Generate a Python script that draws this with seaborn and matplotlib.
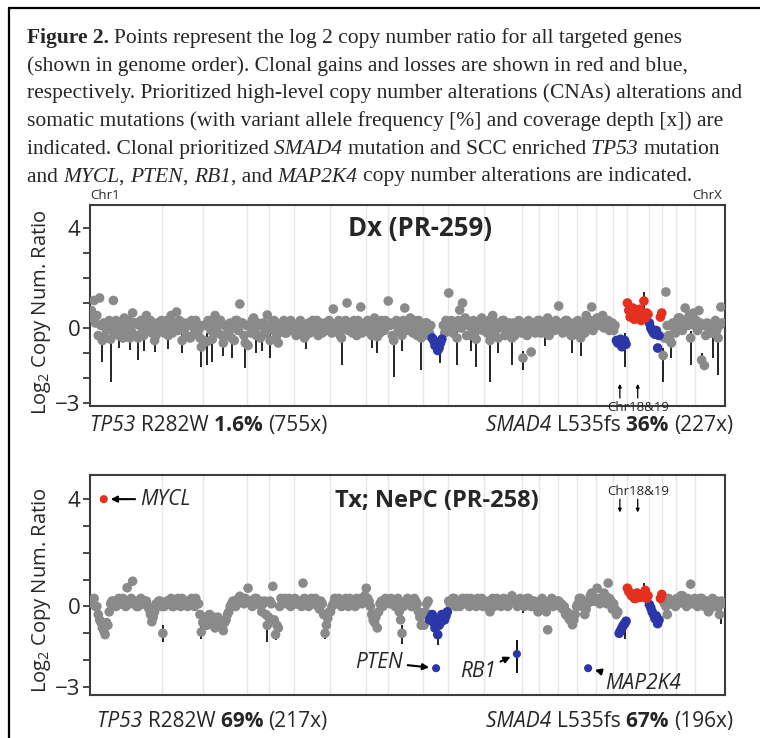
import numpy as np
import pandas as pd
import seaborn as sns
import matplotlib
matplotlib.use('Agg')
from matplotlib import pyplot as plt
from matplotlib.lines import Line2D

W, H = 760, 738

chrom_names = [str(i) for i in range(1, 23)] + ['X']

# ---- Dx (PR-259): log2 copy number ratio per targeted gene, one list per chromosome ----
dx_by_chrom = [
    [0.7, 0.4, 1.1, 0.2, 0.5, -0.3, 1.2, 0.1, -0.5, 0.2, -0.4, -0.1, 0.1, 0.3, -0.45, 0.0,
     1.1, -0.2, 0.3, 0.1, -0.3, 0.2, 0.0, -0.4, 0.4, 0.1, -0.2, 0.3, -0.4, -0.1, 0.6, 0.2,
     0.2, -0.3, -0.4, 0.1, 0.3, -0.2, -0.3, 0.2, 0.5, -0.1, 0.0, 0.3, -0.2, 0.1, -0.5, -0.3,
     0.2, 0.0, 0.1, 0.3],                                                         # chr1
    [0.2, -0.2, 0.0, 0.3, -0.3, 0.1, 0.5, -0.2, 0.1, 0.2, 0.64, -0.1, 0.3, 0.0, -0.5, 0.2,
     0.0, -0.3, 0.2, 0.1, -0.4, 0.3, 0.1, -0.2, 0.3, 0.0, -0.1, -0.4, -0.76, 0.1],  # chr2
    [-0.5, 0.1, -0.55, 0.3, 0.2, -0.1, -0.45, 0.2, 0.5, 0.0, -0.2, 0.3, 0.3, -0.3, -0.6, 0.1,
     0.1, -0.2, -0.3, 0.2, -0.4, 0.0, -0.5, 0.3, 0.3, -0.1, 0.96, 0.2, 0.2, -0.3, -0.6, 0.1],  # chr3
    [-0.7, 0.1, -0.2, 0.3, 0.4, -0.1, -0.3, 0.2, 0.1, -0.4, -0.3, 0.2, 0.0, -0.2, 0.52, 0.1],  # chr4
    [-0.5, 0.2, -0.1, 0.3, 0.2, -0.3, -0.6, 0.0, 0.1, 0.2, 0.3, -0.2, -0.2, 0.1, 0.0, 0.3,
     0.2, -0.1],                                                                  # chr5
    [0.1, -0.3, -0.2, 0.2, 0.3, 0.0, 0.0, -0.4, -0.3, 0.1, 0.2, -0.2, 0.1, 0.3, -0.1, 0.0,
     0.3, -0.3, 0.0, 0.2, -0.2, 0.1, 0.2, -0.1, 0.1, 0.3],                        # chr6
    [0.2, -0.2, 0.76, 0.1, -0.1, 0.2, 0.3, -0.3, -0.4, 0.0, 0.1, 0.3, 1.0, -0.1, 0.2, 0.1,
     -0.2, 0.3, 0.0, -0.3, 0.3, 0.1, 0.84, -0.2, -0.1, 0.2],                      # chr7
    [0.0, 0.3, 0.2, -0.2, -0.3, 0.1, 0.4, 0.0, -0.35, 0.2, -0.2, 0.3, 0.2, -0.1, 0.3, 0.1],  # chr8
    [1.08, 0.1, 0.2, -0.3, -0.5, 0.2, 0.3, 0.0, 0.0, -0.2, -0.3, 0.3, 0.8, 0.1, 0.2, -0.1,
     0.4, 0.2, -0.2, 0.3, 0.1, -0.3, 0.3, 0.0, -0.4, 0.1],                        # chr9
    [-0.1, 0.2, 0.2, -0.3, -0.2, 0.1, -0.4, -0.5, -0.7, -0.6, -0.9, -0.8, -0.6, -0.45,
     0.1, -0.2, 0.3, 0.0],                                                        # chr10
    [1.4, 0.2, 0.3, -0.2, 0.2, 0.1, -0.4, 0.3, 0.72, 0.0, 1.0, 0.2, 0.4, -0.3, 0.1, 0.2,
     -0.3, 0.0, 0.3, -0.2, -0.45, 0.1, 0.0, 0.3, 0.4, -0.1],                      # chr11
    [0.2, -0.1, -0.2, 0.3, -0.5, 0.1, 0.5, -0.2, 0.0, 0.2, -0.4, 0.0, 0.1, 0.3, 0.3, -0.3,
     -0.1, 0.1, 0.2, -0.2, -0.4, 0.2, -0.3, 0.0, 0.1, 0.3, 0.0, -0.2],            # chr12
    [-1.2, 0.2, 0.1, -0.3, 0.3, 0.0, -0.96, 0.2, 0.2, -0.2, 0.0, 0.3],           # chr13
    [0.3, -0.2, 0.1, 0.2, -0.2, 0.0, 0.4, -0.3, 0.0, 0.1, 0.2, -0.1, 0.3, 0.2],  # chr14
    [0.88, 0.1, 0.2, -0.2, -0.1, 0.3, 0.3, 0.0, 0.0, -0.3, -0.3, 0.2, 0.1, -0.1],  # chr15
    [0.3, 0.0, -0.4, 0.2, 0.2, -0.2, 0.5, 0.1, 0.1, 0.3, 0.84, -0.1, 0.3, 0.2],  # chr16
    [0.4, 0.1, 0.2, 0.3, 0.5, 0.0, 0.1, 0.2, 0.3, -0.1, 0.0, 0.2],               # chr17
    [-0.1, 0.1, -0.5, -0.6, -0.6, -0.45, -0.75, -0.55, -0.5, -0.65],             # chr18
    [1.0, 0.7, 0.44, 0.55, 0.8, 0.35, 0.6, 0.45, 0.5, 0.75, 0.3, 0.5, 1.08, 0.4, 0.6, 0.55],  # chr19
    [0.2, 0.0, -0.1, -0.2, -0.25, -0.1, -0.8, -0.3, 0.44, 0.6],                  # chr20
    [-1.1, -0.4, 1.44, 0.1, -0.3, -0.5, -0.6, 0.2, 0.0, -0.2],                   # chr21
    [0.2, 0.4, 0.4, 0.1, -0.1, 0.3, 0.8, 0.2, 0.1, 0.5, -0.4, 0.3, 0.6, 0.1],    # chr22
    [0.3, -0.1, 0.7, 0.2, -1.28, 0.1, -1.5, -0.3, 0.2, 0.0, 0.1, -0.2, -0.2, 0.2, 0.3, -0.1,
     -0.4, 0.1, 0.84, 0.2],                                                       # chrX
]
dx_gain_idx = list(range(390, 406)) + [414, 415]
dx_loss_idx = list(range(248, 256)) + list(range(382, 390)) + list(range(406, 414))
dx_err_idx = [8, 14, 28, 34, 46, 80, 84, 88, 102, 112, 120, 130, 182, 208, 220, 240, 254, 266,
              280, 290, 306, 314, 350, 388, 402, 416, 436, 456,
              20, 38, 56, 66, 96, 124, 156, 204, 226, 276, 296, 330, 356, 422, 444, 452]
dx_err_lo = [-1.36, -2.16, -0.88, -1.28, -0.96, -1.56, -1.48, -1.36, -1.2, -1.6, -1.0, -1.2,
             -1.48, -1.0, -1.96, -1.68, -1.4, -1.48, -1.56, -2.16, -1.48, -1.68, -1.0, -1.56,
             0.6, -2.16, -1.48, -1.88,
             -0.8, -0.9, -0.85, -1.0, -1.1, -0.9, -0.85, -0.8, -0.9, -0.9, -1.0, -0.7, -1.1,
             -1.2, -1.6, -1.2]
dx_err_hi = [-0.2, -0.1, -0.1, -0.1, -0.2, -0.4, -0.2, -0.1, -0.1, -0.3, 0.0, -0.2,
             -0.1, -0.05, -0.2, -0.1, -0.3, -0.1, -0.15, -0.2, -0.1, -0.9, 0.0, -0.2,
             1.44, -0.8, -0.1, -0.1,
             0.1, 0.0, 0.0, -0.2, -0.3, 0.0, 0.0, 0.0, -0.1, 0.0, -0.1, 0.1, -0.1,
             -0.3, -1.0, 0.1]

# ---- Tx; NePC (PR-258) ----
tx_by_chrom = [
    [0.2, 0.1, 0.3, 0.0, 0.0, -0.3, -0.5, -0.6, -0.8, -0.9, -1.05, -0.6, -0.7, -0.2, 0.1, 0.2,
     0.2, 0.1, 0.0, 0.2, 0.3, 0.1, 0.1, 0.3, 0.2, 0.0, 0.7, 0.2, 0.1, 0.3, 0.94, 0.1,
     0.2, 0.0, 0.0, 0.2, 0.3, 0.1, 0.1, 0.2, 0.2, 0.0, -0.1, -0.3, -0.57, -0.4, -0.2, 0.1,
     0.1, 0.2, 0.2, 0.0],                                                         # chr1
    [-1.0, 0.0, 0.1, 0.2, 0.2, 0.1, 0.3, 0.0, 0.0, 0.2, 0.2, 0.3, 0.1, 0.0, 0.3, 0.1,
     0.2, 0.2, 0.0, 0.1, 0.1, 0.3, 0.2, 0.0, 0.3, 0.1, 0.1, -0.3, -0.95, -0.6],   # chr2
    [-0.5, -0.4, -0.7, -0.5, -0.3, -0.6, -0.6, -0.4, -0.8, -0.7, -0.4, -0.5, -0.6, -0.8, -0.9, -0.6,
     -0.5, -0.3, -0.2, 0.0, 0.1, 0.2, 0.2, 0.0, 0.1, 0.3, 0.38, 0.2, 0.2, 0.1, 0.3, 0.2],  # chr3
    [0.68, 0.2, 0.2, 0.0, 0.1, 0.3, 0.3, 0.1, 0.07, 0.2, -0.2, 0.1, 0.2, -0.3, -0.7, -0.4],  # chr4
    [0.2, 0.1, 0.75, -0.5, -1.05, -0.7, -0.8, 0.0, 0.3, 0.1, 0.2, 0.3, 0.1, 0.2, 0.3, 0.0,
     0.2, 0.1],                                                                   # chr5
    [0.3, 0.1, 0.1, 0.2, 0.2, 0.0, 0.87, 0.3, 0.2, 0.1, 0.0, 0.2, 0.3, 0.1, 0.1, 0.3,
     0.2, 0.0, -0.1, 0.2, 0.1, -0.3, -1.0, -0.7, -0.45, -0.2],                    # chr6
    [-0.2, 0.0, 0.1, 0.3, 0.2, 0.1, 0.3, 0.2, 0.0, 0.1, 0.2, 0.3, 0.1, 0.0, 0.3, 0.2,
     0.2, 0.1, 0.0, 0.3, 0.1, 0.2, 0.3, 0.1, 0.2, 0.4],                           # chr7
    [0.68, 0.3, 0.2, 0.0, -0.3, -0.5, -0.6, -0.4, -0.8, -0.2, 0.1, 0.2, 0.0, 0.1, 0.3, 0.2],  # chr8
    [0.2, 0.1, 0.3, 0.2, 0.1, 0.0, 0.2, 0.3, -0.2, -0.5, -1.0, 0.0, 0.1, 0.2, 0.3, 0.1,
     0.2, 0.0, 0.0, 0.3, 0.2, 0.1, -0.2, -0.4, -0.7, -0.3],                       # chr9
    [-0.7, -0.2, 0.1, 0.2, -0.5, -0.4, -0.3, -0.6, -0.8, -0.5, -1.05, -0.7, -0.6, -0.3,
     -0.4, -0.5, -0.35, -0.2],                                                    # chr10
    [0.2, 0.1, 0.1, 0.3, 0.3, 0.0, 0.2, 0.2, 0.0, 0.1, 0.3, 0.2, 0.1, 0.3, 0.2, 0.0,
     0.3, 0.1, 0.1, 0.2, 0.0, 0.3, 0.2, 0.1, 0.3, 0.0],                           # chr11
    [0.2, 0.0, 0.1, 0.2, -0.2, 0.1, 0.3, 0.0, 0.1, 0.3, 0.2, 0.1, 0.0, 0.2, 0.3, 0.1,
     0.2, 0.0, 0.1, 0.3, 0.4, 0.2, 0.2, 0.1, 0.0, 0.2, 0.3, 0.1],                 # chr12
    [0.2, 0.0, 0.1, 0.3, 0.3, 0.1, 0.0, 0.2, 0.2, 0.0, 0.1, -0.2],               # chr13
    [0.2, 0.1, 0.3, 0.0, 0.1, -0.2, -0.87, 0.1, 0.2, 0.3, 0.0, 0.1, 0.1, 0.2],   # chr14
    [0.2, 0.0, 0.1, -0.1, 0.0, -0.3, -0.2, -0.4, -0.5, -0.3, -0.68, -0.5, -0.3, 0.0],  # chr15
    [0.1, 0.3, 0.3, 0.0, 0.2, -0.3, -0.1, 0.1, 0.2, 0.4, 0.5, 0.2, 0.2, 0.3],    # chr16
    [0.68, 0.3, 0.1, 0.2, 0.2, 0.5, 0.4, 0.1, 0.87, 0.3, 0.2, -0.1],             # chr17
    [0.1, -0.1, -0.3, -0.2, -1.0, -0.9, -0.8, -0.7, -0.64, -0.55],               # chr18
    [0.68, 0.55, 0.5, 0.4, 0.4, 0.3, 0.3, 0.5, 0.45, 0.35, 0.35, 0.45, 0.5, 0.6, 0.3, 0.4],  # chr19
    [0.07, -0.05, -0.2, -0.3, -0.45, -0.35, -0.64, -0.5, 0.3, 0.45],             # chr20
    [0.2, 0.1, 0.0, -0.3, 0.3, 0.1, 0.1, 0.2, 0.2, 0.0],                         # chr21
    [0.3, 0.1, 0.2, 0.4, 0.4, 0.2, 0.1, 0.0, 0.3, 0.2, 0.83, 0.1, 0.2, 0.3],     # chr22
    [0.2, 0.0, 0.1, 0.3, 0.3, 0.1, 0.0, 0.2, 0.2, -0.2, -0.1, 0.1, 0.3, 0.0, 0.1, 0.2,
     0.0, -0.3, 0.2, 0.1],                                                        # chrX
]
tx_gain_idx = list(range(390, 406)) + [414, 415]
tx_loss_idx = list(range(246, 260)) + list(range(384, 390)) + list(range(406, 414))
tx_err_idx = [52, 80, 108, 128, 134, 170, 226, 252, 314, 388, 402, 458]
tx_err_lo = [-1.32, -1.2, 0.05, -1.32, -1.25, -1.2, -1.4, -1.43, -0.26, -1.2, 0.3, -0.64]
tx_err_hi = [-0.7, -0.7, 0.5, -0.4, -0.8, -0.8, -0.7, -0.8, 0.3, -0.4, 0.87, 0.3]

# prioritized high-level CNAs in Tx
hl_genes = ['MYCL', 'PTEN', 'RB1', 'MAP2K4']
hl_idx = [9, 250.8, 309.6, 361.4]
hl_log2 = [4.0, -2.3, -1.77, -2.3]
hl_status = ['gain', 'loss', 'loss', 'loss']
hl_err_lo = [np.nan, np.nan, -2.48, np.nan]
hl_err_hi = [np.nan, np.nan, -1.25, np.nan]

dx_mut = [[('TP53 ', 'normal', 'italic'), ('R282W ', 'normal', 'normal'),
           ('1.6% ', 'bold', 'normal'), ('(755x)', 'normal', 'normal')],
          [('SMAD4 ', 'normal', 'italic'), ('L535fs ', 'normal', 'normal'),
           ('36% ', 'bold', 'normal'), ('(227x)', 'normal', 'normal')]]
tx_mut = [[('TP53 ', 'normal', 'italic'), ('R282W ', 'normal', 'normal'),
           ('69% ', 'bold', 'normal'), ('(217x)', 'normal', 'normal')],
          [('SMAD4 ', 'normal', 'italic'), ('L535fs ', 'normal', 'normal'),
           ('67% ', 'bold', 'normal'), ('(196x)', 'normal', 'normal')]]

caption = [
    [('Figure 2. ', 'bold', 'normal'),
     ('Points represent the log 2 copy number ratio for all targeted genes', 'normal', 'normal')],
    [('(shown in genome order). Clonal gains and losses are shown in red and blue,', 'normal', 'normal')],
    [('respectively. Prioritized high-level copy number alterations (CNAs) alterations and', 'normal', 'normal')],
    [('somatic mutations (with variant allele frequency [%] and coverage depth [x]) are', 'normal', 'normal')],
    [('indicated. Clonal prioritized ', 'normal', 'normal'), ('SMAD4 ', 'normal', 'italic'),
     ('mutation and SCC enriched ', 'normal', 'normal'), ('TP53 ', 'normal', 'italic'),
     ('mutation', 'normal', 'normal')],
    [('and ', 'normal', 'normal'), ('MYCL', 'normal', 'italic'), (', ', 'normal', 'normal'),
     ('PTEN', 'normal', 'italic'), (', ', 'normal', 'normal'), ('RB1', 'normal', 'italic'),
     (', and ', 'normal', 'normal'), ('MAP2K4 ', 'normal', 'italic'),
     ('copy number alterations are indicated.', 'normal', 'normal')],
]

sns.set_style('white')
SANS = ['Open Sans', 'DejaVu Sans']
plt.rcParams['font.family'] = SANS
plt.rcParams['mathtext.fontset'] = 'custom'
plt.rcParams['mathtext.rm'] = 'Open Sans'
plt.rcParams['mathtext.it'] = 'Open Sans:italic'
plt.rcParams['mathtext.bf'] = 'Open Sans:bold'

palette = {'neutral': '#8a8a8a', 'gain': '#e6301f', 'loss': '#2b37a8'}
genes_per_chrom = np.array([len(c) for c in dx_by_chrom])
n_genes = genes_per_chrom.sum()
chrom_bounds = np.cumsum(genes_per_chrom)[:-1] - 0.5
chrom_centers = np.cumsum(genes_per_chrom) - genes_per_chrom / 2 - 0.5


def gene_table(by_chrom, gain, loss):
    vals = [v for c in by_chrom for v in c]
    df = pd.DataFrame({'idx': np.arange(len(vals)), 'log2': vals, 'status': 'neutral'})
    df.loc[df['idx'].isin(gain), 'status'] = 'gain'
    df.loc[df['idx'].isin(loss), 'status'] = 'loss'
    order = df['status'].map({'neutral': 0, 'loss': 1, 'gain': 2})
    return df.iloc[np.argsort(order.values, kind='stable')]


fig = plt.figure(figsize=(W / 100, H / 100), dpi=100)
R = fig.canvas.get_renderer()


def fx(x):
    return x / W


def fy(y):
    return 1 - y / H


def advance(s, **kw):
    t1 = fig.text(0, 0, '|' + s + '|', **kw)
    t0 = fig.text(0, 0, '||', **kw)
    w = t1.get_window_extent(R).width - t0.get_window_extent(R).width
    t1.remove()
    t0.remove()
    return w


def text_run(x, y, parts, align='left', **kw):
    widths = [advance(s, weight=wt, style=st, **kw) for s, wt, st in parts]
    if align == 'right':
        x -= sum(widths)
    elif align == 'center':
        x -= sum(widths) / 2
    for (s, wt, st), w in zip(parts, widths):
        fig.text(fx(x), fy(y), s, weight=wt, style=st, ha='left', va='baseline', **kw)
        x += w


def draw_panel(ax, df, e_idx, e_lo, e_hi, ylim, size=48):
    ax.vlines(chrom_bounds, ylim[0], ylim[1], color='#e6e6e6', lw=1.0, zorder=0)
    ax.vlines(e_idx, e_lo, e_hi, color='black', lw=1.2, zorder=2)
    sns.scatterplot(data=df, x='idx', y='log2', hue='status', palette=palette, s=size,
                    linewidth=0, legend=False, ax=ax, zorder=3)
    ax.set_xlim(-1, n_genes + 1)
    ax.set_ylim(*ylim)
    ax.set_xticks([])
    ax.set_yticks(range(-3, 5))
    ax.set_yticklabels(['\u22123', '', '', '0', '', '', '', '4'])
    ax.set_xlabel('')
    ax.set_ylabel('')
    for sp in ax.spines.values():
        sp.set_color('#3c3c3c')
        sp.set_linewidth(1.5)
    ax.tick_params(axis='y', left=True, direction='out', length=5, width=1.3,
                   color='#3c3c3c', labelsize=16, pad=2)


# outer frame
fig.add_artist(Line2D([fx(9), 1], [fy(8), fy(8)], transform=fig.transFigure, color='black', lw=1.6))
fig.add_artist(Line2D([fx(9), fx(9)], [fy(8), 0], transform=fig.transFigure, color='black', lw=1.6))

# caption
for i, line in enumerate(caption):
    text_run(27, 43 + i * 27.7, line, family=['Liberation Serif'], fontsize=15.5)

# panel 1
ax1 = fig.add_axes([fx(90), fy(406), 635 / W, 201 / H])
draw_panel(ax1, gene_table(dx_by_chrom, dx_gain_idx, dx_loss_idx),
           dx_err_idx, dx_err_lo, dx_err_hi, (-3.12, 4.92))
text_run(420, 236, [('Dx (PR-259)', 'bold', 'normal')], align='center', fontsize=18.5)
text_run(90, 199, [('Chr1', 'normal', 'normal')], fontsize=9.5)
text_run(722, 199, [('ChrX', 'normal', 'normal')], align='right', fontsize=9.5)
text_run(90, 431, dx_mut[0], fontsize=15)
text_run(733, 431, dx_mut[1], align='right', fontsize=15)
fig.text(fx(42), fy(312), 'Log$_2$ Copy Num. Ratio', rotation=90, ha='center', va='center', fontsize=14.5)
for c in chrom_centers[17:19]:
    ax1.annotate('', xy=(c, 0.11), xytext=(c, 0.04), xycoords=ax1.get_xaxis_transform(),
                 arrowprops=dict(arrowstyle='-|>', lw=0.9, color='black', mutation_scale=5,
                                 shrinkA=0, shrinkB=0))
text_run(638, 411, [('Chr18&19', 'normal', 'normal')], align='center', fontsize=9.5)

# panel 2
ax2 = fig.add_axes([fx(90), fy(695), 635 / W, 220 / H])
draw_panel(ax2, gene_table(tx_by_chrom, tx_gain_idx, tx_loss_idx),
           tx_err_idx, tx_err_lo, tx_err_hi, (-3.3, 4.9))
hl = pd.DataFrame({'idx': hl_idx, 'log2': hl_log2, 'status': hl_status, 'gene': hl_genes})
ax2.vlines(hl_idx, hl_err_lo, hl_err_hi, color='black', lw=1.3, zorder=2)
sns.scatterplot(data=hl, x='idx', y='log2', hue='status', palette=palette, s=34,
                linewidth=0, legend=False, ax=ax2, zorder=4)
ax2.set_xlabel('')
ax2.set_ylabel('')
label_offsets = {'MYCL': (36, 0, 'left'), 'PTEN': (-33, 6, 'right'),
                 'RB1': (-21, -18, 'right'), 'MAP2K4': (17, -15, 'left')}
for g, xi, yv in zip(hl_genes, hl_idx, hl_log2):
    dxp, dyp, ha = label_offsets[g]
    ax2.annotate(g, xy=(xi, yv), xytext=(dxp, dyp), textcoords='offset pixels',
                 ha=ha, va='center', style='italic', fontsize=15,
                 arrowprops=dict(arrowstyle='-|>', lw=1.5, color='black', mutation_scale=9,
                                 shrinkA=1, shrinkB=5))
text_run(437, 507, [('Tx; NePC (PR-258)', 'bold', 'normal')], align='center', fontsize=17)
text_run(97, 727, tx_mut[0], fontsize=15)
text_run(733, 727, tx_mut[1], align='right', fontsize=15)
fig.text(fx(42), fy(590), 'Log$_2$ Copy Num. Ratio', rotation=90, ha='center', va='center', fontsize=14.5)
for c in chrom_centers[17:19]:
    ax2.annotate('', xy=(c, 0.83), xytext=(c, 0.89), xycoords=ax2.get_xaxis_transform(),
                 arrowprops=dict(arrowstyle='-|>', lw=0.9, color='black', mutation_scale=5,
                                 shrinkA=0, shrinkB=0))
text_run(638, 495, [('Chr18&19', 'normal', 'normal')], align='center', fontsize=9.5)

fig.savefig('out.png', dpi=100)
plt.close(fig)
